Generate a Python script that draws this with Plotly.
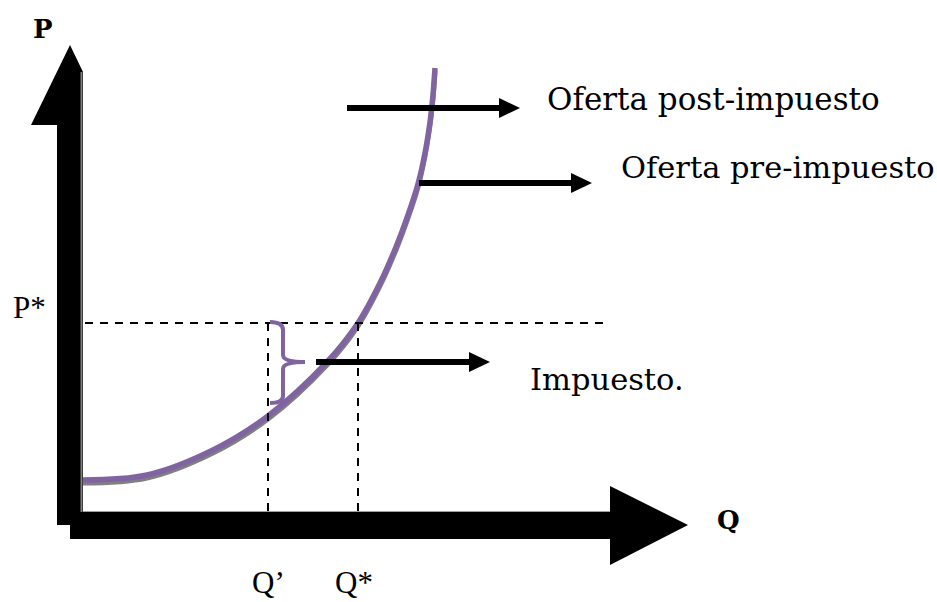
import plotly.graph_objects as go

# ---- data (Q, P in chart units; origin at the axes corner) ----
q_supply = [0, 64, 130, 185, 244, 275, 297, 313, 325, 335, 342, 347, 350, 352]
p_supply_post = [32, 37, 62, 96, 150, 189, 229, 265, 297, 328, 359, 390, 417, 444]
p_supply_pre = [29, 34, 59, 93, 147, 186, 226, 262, 294, 325, 356, 387, 414, 441]

p_star = 189
q_prime = 185
q_star = 275

label_post = "Oferta post-impuesto"
label_pre = "Oferta pre-impuesto"
label_tax = "Impuesto."

PURPLE = "#8064A2"
GRAY = "#808080"
SERIF_WIDE = "DejaVu Serif"
SERIF = "Liberation Serif"

fig = go.Figure()

# supply curves
fig.add_trace(go.Scatter(x=q_supply, y=p_supply_pre, mode="lines",
                         line=dict(color=GRAY, width=5, shape="spline", smoothing=1.0),
                         hoverinfo="skip", showlegend=False))
fig.add_trace(go.Scatter(x=q_supply, y=p_supply_post, mode="lines",
                         line=dict(color=PURPLE, width=5.5, shape="spline", smoothing=1.0),
                         hoverinfo="skip", showlegend=False))

shapes = []
# thick axis arrows
shapes.append(dict(type="path", xref="x", yref="y", layer="below",
                   path="M -26,387 L -52,387 L -13,467 L 0,440 L 0,-13 L -26,-13 Z",
                   fillcolor="black", line=dict(width=0)))
shapes.append(dict(type="path", xref="x", yref="y", layer="below",
                   path="M -13,0 L 527,0 L 527,26 L 605,-13 L 527,-53 L 527,-27 L -13,-27 Z",
                   fillcolor="black", line=dict(width=0)))
shapes.append(dict(type="line", xref="x", yref="y", layer="below",
                   x0=-1.5, x1=-1.5, y0=440, y1=0, line=dict(color=GRAY, width=2)))
shapes.append(dict(type="line", xref="x", yref="y", layer="below",
                   x0=0, x1=527, y0=0.5, y1=0.5, line=dict(color="#a0a0a0", width=1)))

# dashed guides
dash = "8px,7px"
shapes.append(dict(type="line", xref="x", yref="y", x0=2, x1=522, y0=p_star, y1=p_star,
                   line=dict(color="black", width=2, dash=dash)))
shapes.append(dict(type="line", xref="x", yref="y", x0=q_prime, x1=q_prime, y0=p_star, y1=0,
                   line=dict(color="black", width=2, dash=dash)))
shapes.append(dict(type="line", xref="x", yref="y", x0=q_star, x1=q_star, y0=p_star, y1=0,
                   line=dict(color="black", width=2, dash=dash)))

# tax brace
shapes.append(dict(type="path", xref="x", yref="y",
                   path=("M 187,190 Q 200,190 200,182 L 200,157 Q 200,150 222,150 "
                         "Q 200,150 200,143 L 200,116 Q 200,109 187,109"),
                   line=dict(color=PURPLE, width=4)))

# label arrows (shaft + head)
def arrow(q0, q1, p):
    shapes.append(dict(type="line", xref="x", yref="y", x0=q0, x1=q1 - 20, y0=p, y1=p,
                       line=dict(color="black", width=6)))
    shapes.append(dict(type="path", xref="x", yref="y",
                       path=f"M {q1-21},{p+10} L {q1},{p} L {q1-21},{p-10} Z",
                       fillcolor="black", line=dict(width=0)))

arrow(264, 437, 404)
arrow(336, 509, 329)
arrow(233, 407, 150)

ann = []
def text(t, q, p, font, size, bold=False):
    ann.append(dict(text=f"<b>{t}</b>" if bold else t, x=q, y=p, xref="x", yref="y",
                    xanchor="left", yanchor="middle", showarrow=False,
                    font=dict(family=font, size=size, color="black")))

text(label_post, 462, 413, SERIF_WIDE, 31)
text(label_pre, 536, 345, SERIF_WIDE, 30.5)
text(label_tax, 445, 133, SERIF_WIDE, 30.5)
text("P*", -72, 205, SERIF, 31)
text("Q’", 167, -70, SERIF, 31)
text("Q*", 250, -70, SERIF, 31)
text("P", -52, 483, SERIF_WIDE, 26, bold=True)
text("Q", 632, -8, SERIF_WIDE, 26, bold=True)

fig.update_layout(
    width=937, height=602, autosize=False,
    margin=dict(l=0, r=0, t=0, b=0),
    paper_bgcolor="white", plot_bgcolor="white",
    shapes=shapes, annotations=ann,
    xaxis=dict(range=[-83, 854], visible=False, fixedrange=True),
    yaxis=dict(range=[-90, 512], visible=False, fixedrange=True),
    showlegend=False,
)

fig.write_html("out.html", config={"displayModeBar": False},
               post_script="document.body.style.margin='0';document.body.style.overflow='hidden';")
